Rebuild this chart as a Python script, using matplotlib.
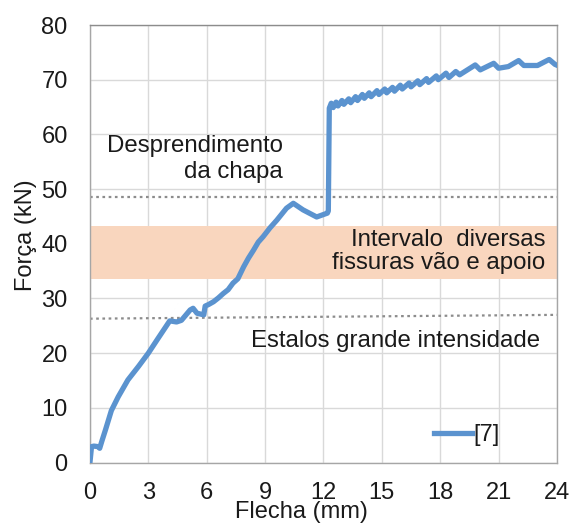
import matplotlib
matplotlib.use("Agg")
import matplotlib.pyplot as plt

plt.rcParams['font.family'] = ['Liberation Sans', 'DejaVu Sans']

# Load-deflection curve of specimen [7]
flecha = [0, 0.08, 0.2, 0.42, 0.5, 0.62, 0.8, 1.1, 1.45, 1.95, 2.5, 3.0, 3.5,
          3.95, 4.1, 4.45, 4.7, 5.15, 5.3, 5.5, 5.85, 5.92, 6.1, 6.35, 6.6,
          6.85, 7.1, 7.35, 7.6, 7.9, 8.15, 8.4, 8.65, 8.9, 9.25, 9.6, 10.1,
          10.45, 10.95, 11.65, 12.2, 12.25, 12.3,
          12.4, 12.5, 12.65, 12.75, 12.95, 13.05, 13.3, 13.4, 13.65, 13.75,
          14.0, 14.1, 14.35, 14.45, 14.75, 14.85, 15.15, 15.25, 15.55, 15.65,
          15.95, 16.05, 16.4, 16.5, 16.85, 16.95, 17.3, 17.4, 17.8, 17.9,
          18.3, 18.45, 18.8, 19.0, 19.8, 20.06, 20.75, 21.0, 21.5, 22.03,
          22.3, 23.0, 23.6, 23.9, 24.1]
forca = [0, 2.9, 3.0, 2.9, 2.6, 4.0, 6.0, 9.5, 12.0, 15.1, 17.6, 20.0, 22.7,
         25.1, 25.9, 25.7, 26.0, 27.9, 28.2, 27.3, 27.0, 28.6, 28.9, 29.4, 30.1,
         30.9, 31.6, 32.8, 33.6, 35.8, 37.4, 38.8, 40.3, 41.3, 42.9, 44.3, 46.5,
         47.4, 46.2, 44.9, 45.6, 46.0, 64.8,
         65.7, 64.9, 65.9, 65.2, 66.2, 65.5, 66.5, 65.8, 66.9, 66.2,
         67.3, 66.6, 67.6, 66.9, 68.0, 67.3, 68.3, 67.6, 68.6, 67.9,
         69.0, 68.3, 69.4, 68.7, 69.8, 69.1, 70.2, 69.5, 70.7, 70.0,
         71.2, 70.4, 71.5, 70.9, 72.7, 71.8, 73.0, 72.1, 72.4, 73.5,
         72.6, 72.6, 73.7, 72.8, 72.5]

x_ticks = [0, 3, 6, 9, 12, 15, 18, 21, 24]
y_ticks = [0, 10, 20, 30, 40, 50, 60, 70, 80]

# Reference levels (kN)
desprendimento = [48.5, 48.5]
estalos = [26.3, 27.0]
fissuras_faixa = [33.6, 43.2]

fig = plt.figure(figsize=(5.73, 5.29), dpi=100)
ax = fig.add_axes([0.157, 0.1257, 0.815, 0.827])

ax.set_xlim(0, 24)
ax.set_ylim(0, 80)
ax.set_xticks(x_ticks)
ax.set_yticks(y_ticks)

ax.grid(True, color='#d9d9d9', linewidth=1.0)
ax.set_axisbelow(True)
for s in ax.spines.values():
    s.set_color('#a6a6a6')
    s.set_linewidth(1.0)
ax.spines['top'].set_color('#8c8c8c')

ax.tick_params(axis='both', length=0, labelsize=17, colors='#1a1a1a')
ax.tick_params(axis='y', pad=16)
ax.tick_params(axis='x', pad=14)

ax.axhspan(fissuras_faixa[0], fissuras_faixa[1], color='#f9d6be', zorder=1, lw=0)
ax.plot([0, 24], desprendimento, linestyle=(0, (1.2, 1.6)), color='#8c8c8c',
        linewidth=1.6, zorder=2)
ax.plot([0, 24], estalos, linestyle=(0, (1.2, 1.6)), color='#8c8c8c',
        linewidth=1.6, zorder=2)

ax.plot(flecha, forca, color='#5b93cf', linewidth=3.8, zorder=3,
        solid_joinstyle='round', label='[7]')

txt_kw = dict(fontsize=17.3, color='#1a1a1a', zorder=4)
ax.text(9.9, 55.5, 'Desprendimento\nda chapa', ha='right', va='center',
        linespacing=1.2, **txt_kw)
ax.text(23.4, 38.6, 'Intervalo  diversas\nfissuras vão e apoio', ha='right',
        va='center', linespacing=1.1, **txt_kw)
ax.text(23.15, 22.3, 'Estalos grande intensidade', ha='right', va='center',
        **txt_kw)

ax.set_xlabel('Flecha (mm)', fontsize=17, color='#1a1a1a', va='center')
ax.set_ylabel('Força (kN)', fontsize=17, color='#1a1a1a', va='center')
ax.xaxis.set_label_coords((301 - 90) / 467, -(512 - 462.5) / 437.5)
ax.yaxis.set_label_coords(-(90 - 26) / 467, (462.5 - 235) / 437.5)

ax.legend(loc='center', bbox_to_anchor=((467 - 90) / 467, (462.5 - 435) / 437.5),
          frameon=False, fontsize=17, handlelength=1.6, handletextpad=0.05,
          borderpad=0, labelcolor='#1a1a1a')

fig.savefig('out.png', dpi=100)
